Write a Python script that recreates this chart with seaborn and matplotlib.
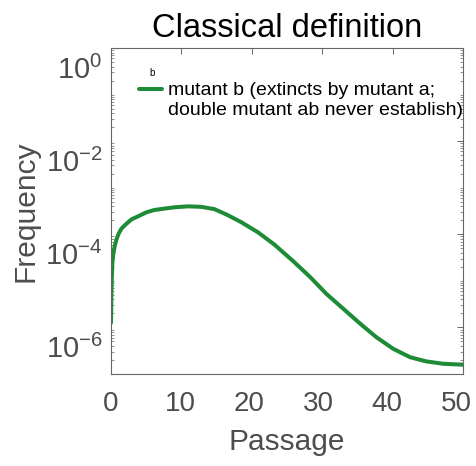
import numpy as np
import pandas as pd
import matplotlib
matplotlib.use("Agg")
import matplotlib.pyplot as plt
import matplotlib.transforms as mtransforms
from matplotlib.lines import Line2D
from matplotlib.legend_handler import HandlerLine2D
import seaborn as sns
from matplotlib.ticker import LogLocator, NullFormatter, FixedLocator

# Frequency of mutant b over passages (log10 of frequency)
passage = [0, 0.05, 0.1, 0.19, 0.3, 0.5, 0.76, 1.04, 1.47, 2.0, 2.9, 3.9, 5.0, 6.1,
           7.5, 9.05, 10.9, 12.8, 14.7, 16.6, 18.5, 20.9, 23.2, 25.9, 28.3, 30.6,
           33.0, 35.4, 37.7, 40.1, 42.5, 44.8, 47.2, 50.0]
log_freq = [-5.9, -5.3, -5.0, -4.62, -4.45, -4.27, -4.12, -4.0, -3.88, -3.8, -3.68,
            -3.61, -3.53, -3.48, -3.45, -3.42, -3.40, -3.41, -3.46, -3.59, -3.74,
            -3.96, -4.22, -4.58, -4.92, -5.28, -5.60, -5.92, -6.21, -6.46, -6.64,
            -6.73, -6.78, -6.80]

y_ticks = [1e-6, 1e-4, 1e-2, 1e0]
y_tick_labels = [r"$10^{-6}$", r"$10^{-4}$", r"$10^{-2}$", r"$10^{0}$"]
x_ticks = [0, 10, 20, 30, 40, 50]

title = "Classical definition"
series_label = "mutant b (extincts by mutant a;\ndouble mutant ab never establish)"

df = pd.DataFrame({"Passage": passage, "Frequency": np.power(10.0, log_freq)})

sns.set_style("white")
plt.rcParams["font.family"] = ["Liberation Sans", "DejaVu Sans"]
plt.rcParams["mathtext.fontset"] = "custom"
plt.rcParams["mathtext.rm"] = "Liberation Sans"
plt.rcParams["mathtext.it"] = "Liberation Sans"

text_gray = "#4d4d4d"
axis_gray = "#666666"
green = "#1e8c37"


class FirstLineHandler(HandlerLine2D):
    """Legend line drawn level with the first line of a two-line label."""

    def __init__(self, lift_pt, **kw):
        super().__init__(**kw)
        self.lift_pt = lift_pt

    def create_artists(self, legend, orig_handle, xdescent, ydescent, width,
                       height, fontsize, trans):
        lifted = mtransforms.Affine2D().translate(0, self.lift_pt) + trans
        return super().create_artists(legend, orig_handle, xdescent, ydescent,
                                      width, height, fontsize, lifted)


fig = plt.figure(figsize=(4.76, 4.66), dpi=100)
ax = fig.add_axes([0.2332, 0.1974, 0.9727 - 0.2332, 0.897 - 0.1974])

sns.lineplot(data=df, x="Passage", y="Frequency", ax=ax, color=green,
             linewidth=2.9, label=series_label, sort=False)
ax.get_lines()[0].set_solid_joinstyle("round")

ax.set_yscale("log")
ax.set_xlim(0, 50)
ax.set_ylim(1e-7, 1e0)

ax.xaxis.set_major_locator(FixedLocator(x_ticks))
ax.set_yticks(y_ticks)
ax.set_yticklabels(y_tick_labels)
ax.yaxis.set_minor_locator(LogLocator(base=10, subs=np.arange(1, 10), numticks=20))
ax.yaxis.set_minor_formatter(NullFormatter())

ax.tick_params(axis="both", which="major", direction="in", length=4, width=0.7,
               color=axis_gray, labelcolor=text_gray, labelsize=21,
               top=True, right=True)
ax.tick_params(axis="x", which="major", labelsize=20, pad=12)
ax.tick_params(axis="y", which="major", pad=6)
ax.tick_params(axis="y", which="minor", direction="in", length=2, width=0.5,
               color=axis_gray, left=True, right=True)

# exponent labels sit a little below their tick marks
shift = mtransforms.ScaledTranslation(0, -0.19, fig.dpi_scale_trans)
for lbl in ax.get_yticklabels():
    lbl.set_transform(lbl.get_transform() + shift)
# passage labels drift slightly left toward the right end
for k, lbl in enumerate(ax.get_xticklabels()):
    dx = mtransforms.ScaledTranslation(-0.014 * k, 0, fig.dpi_scale_trans)
    lbl.set_transform(lbl.get_transform() + dx)

for s in ax.spines.values():
    s.set_color(axis_gray)
    s.set_linewidth(0.8)

ax.set_xlabel("Passage", fontsize=21.5, color=text_gray, labelpad=8)
ax.set_ylabel("Frequency", fontsize=21.5, color=text_gray, labelpad=4)
ax.set_title(title, fontsize=23.5, color="black", pad=8)

leg = ax.legend(loc="upper left", bbox_to_anchor=(0.0795, 0.896), frameon=False,
                fontsize=14.0, handlelength=1.2, handletextpad=0.3,
                borderpad=0, borderaxespad=0, labelspacing=0.2,
                handler_map={Line2D: FirstLineHandler(lift_pt=7.5)})
for t in leg.get_texts():
    t.set_color("black")
ax.text(0.116, 0.923, "b", transform=ax.transAxes, fontsize=7, ha="center",
        va="center", color="black")

fig.savefig("out.png", dpi=100)
